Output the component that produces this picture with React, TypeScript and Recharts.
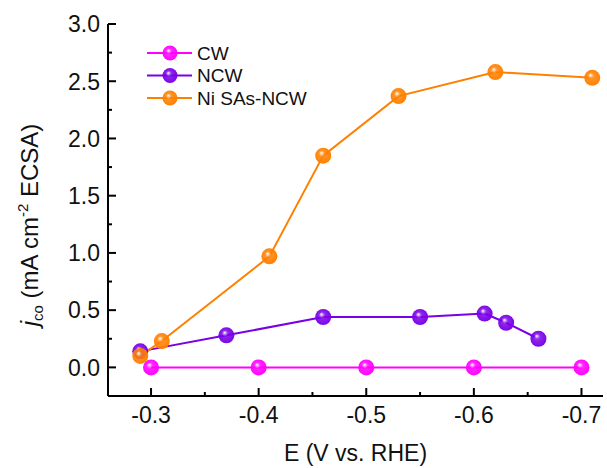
import { LineChart, Line, XAxis, YAxis, Legend } from "recharts";

// E (V vs. RHE) / j_co (mA cm^-2 ECSA)
const cwData = [
  { e: -0.3, j: 0 },
  { e: -0.4, j: 0 },
  { e: -0.5, j: 0 },
  { e: -0.6, j: 0 },
  { e: -0.7, j: 0 },
];

const ncwData = [
  { e: -0.29, j: 0.14 },
  { e: -0.37, j: 0.28 },
  { e: -0.46, j: 0.44 },
  { e: -0.55, j: 0.44 },
  { e: -0.61, j: 0.47 },
  { e: -0.63, j: 0.39 },
  { e: -0.66, j: 0.25 },
];

const niData = [
  { e: -0.29, j: 0.1 },
  { e: -0.31, j: 0.23 },
  { e: -0.41, j: 0.97 },
  { e: -0.46, j: 1.85 },
  { e: -0.53, j: 2.37 },
  { e: -0.62, j: 2.58 },
  { e: -0.71, j: 2.53 },
];

const xTicks = [-0.3, -0.35, -0.4, -0.45, -0.5, -0.55, -0.6, -0.65, -0.7];
const yTicks = [0, 0.25, 0.5, 0.75, 1, 1.25, 1.5, 1.75, 2, 2.25, 2.5, 2.75, 3];

const series = [
  { id: "cw", name: "CW", color: "#FF00FF", data: cwData },
  { id: "ncw", name: "NCW", color: "#7A00E8", data: ncwData },
  { id: "ni", name: "Ni SAs-NCW", color: "#FF8000", data: niData },
];

const FONT = "'Liberation Sans', Arial, sans-serif";

function Ball({ cx, cy, color, id, r = 8 }: any) {
  const gid = `ball-${id}`;
  return (
    <g>
      <defs>
        <radialGradient id={gid} cx="50%" cy="50%" r="55%" fx="38%" fy="32%">
          <stop offset="0%" stopColor="#ffffff" />
          <stop offset="35%" stopColor={color} stopOpacity={0.85} />
          <stop offset="100%" stopColor={color} />
        </radialGradient>
      </defs>
      <circle cx={cx} cy={cy} r={r} fill={`url(#${gid})`} />
    </g>
  );
}

// ticks point into the plot: major 8px, minor 4px; labels only on majors
function XTick({ x, y, payload }: any) {
  const v = payload.value;
  const major = Math.abs(v * 10 - Math.round(v * 10)) < 1e-6;
  const len = major ? 8 : 4;
  return (
    <g>
      <path d={`M${x},${y}V${y - len}`} stroke="#000" strokeWidth={2} fill="none" />
      {major && (
        <text x={x} y={y + 27} textAnchor="middle" fontSize={23} fontFamily={FONT} fill="#111">
          {v.toFixed(1)}
        </text>
      )}
    </g>
  );
}

function YTick({ x, y, payload }: any) {
  const v = payload.value;
  const major = Math.abs(v * 2 - Math.round(v * 2)) < 1e-6;
  const len = major ? 8 : 4;
  return (
    <g>
      <path d={`M${x},${y}H${x + len}`} stroke="#000" strokeWidth={2} fill="none" />
      {major && (
        <text x={x - 8} y={y} dy="0.36em" textAnchor="end" fontSize={23} fontFamily={FONT} fill="#111">
          {v.toFixed(1)}
        </text>
      )}
    </g>
  );
}

function renderLegend() {
  return (
    <svg width={220} height={75}>
      {series.map((s, i) => {
        const cy = 13 + i * 22.5;
        return (
          <g key={s.id}>
            <line x1={7} x2={52} y1={cy} y2={cy} stroke={s.color} strokeWidth={2} />
            <Ball cx={30} cy={cy} color={s.color} id={`lg-${s.id}`} r={7.5} />
            <text x={57} y={cy} dy="0.36em" fontSize={19} fontFamily={FONT} fill="#111">
              {s.name}
            </text>
          </g>
        );
      })}
    </svg>
  );
}

export default function App() {
  return (
    <div style={{ position: "absolute", left: 0, top: 0, background: "#fff" }}>
      <LineChart width={607} height={468} margin={{ top: 24, right: 4, bottom: 0, left: 0 }}>
        <XAxis
          xAxisId="b"
          dataKey="e"
          type="number"
          domain={[-0.72, -0.26]}
          reversed
          ticks={xTicks}
          interval={0}
          allowDataOverflow
          height={72}
          tickSize={0}
          tickMargin={0}
          tickLine={false}
          tick={<XTick />}
          axisLine={{ stroke: "#000", strokeWidth: 2 }}
          label={{
            value: "E (V vs. RHE)",
            position: "insideBottom",
            offset: 7,
            fontSize: 23,
            fontFamily: FONT,
            fill: "#111",
          }}
        />
        <XAxis
          xAxisId="t"
          orientation="top"
          type="number"
          domain={[-0.72, -0.26]}
          reversed
          height={0}
          tick={false}
          tickLine={false}
          axisLine={{ stroke: "#000", strokeWidth: 2 }}
        />
        <YAxis
          yAxisId="l"
          type="number"
          domain={[-0.25, 3]}
          ticks={yTicks}
          interval={0}
          allowDataOverflow
          width={108}
          tickSize={0}
          tickMargin={0}
          tickLine={false}
          tick={<YTick />}
          axisLine={{ stroke: "#000", strokeWidth: 2 }}
          label={{
            position: "insideLeft",
            content: () => (
              <text x={38} y={225} transform="rotate(-90, 38, 225)" textAnchor="middle" fontSize={24} fontFamily={FONT} fill="#111">
                <tspan fontStyle="italic">j</tspan>
                <tspan fontSize={15} dy={5}>co</tspan>
                <tspan dy={-5}> (mA cm</tspan>
                <tspan fontSize={15} dy={-10}>-2</tspan>
                <tspan dy={10}> ECSA)</tspan>
              </text>
            ),
          }}
        />
        <YAxis
          yAxisId="r"
          orientation="right"
          type="number"
          domain={[-0.25, 3]}
          width={0}
          tick={false}
          tickLine={false}
          axisLine={{ stroke: "#000", strokeWidth: 2 }}
        />
        <Legend
          layout="vertical"
          align="center"
          verticalAlign="middle"
          wrapperStyle={{ top: 40, left: 140, width: 220 }}
          content={renderLegend}
        />
        {series.map((s) => (
          <Line
            key={s.id}
            xAxisId="b"
            yAxisId="l"
            data={s.data}
            dataKey="j"
            name={s.name}
            type="linear"
            stroke={s.color}
            strokeWidth={2}
            isAnimationActive={false}
            dot={(p: any) => (
              <Ball key={`${s.id}-${p.index}`} cx={p.cx} cy={p.cy} color={s.color} id={s.id} />
            )}
            activeDot={false}
          />
        ))}
      </LineChart>
    </div>
  );
}
